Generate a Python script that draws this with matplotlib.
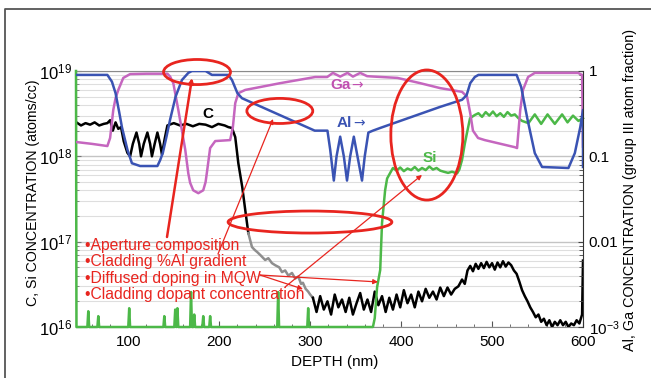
import numpy as np
import matplotlib
matplotlib.use("Agg")
from matplotlib import pyplot as plt
from matplotlib.patches import Ellipse
from matplotlib.lines import Line2D
from matplotlib.ticker import LogLocator, MultipleLocator, NullFormatter

plt.rcParams['font.family'] = ['Liberation Sans', 'DejaVu Sans']
plt.rcParams['mathtext.fontset'] = 'custom'
plt.rcParams['mathtext.rm'] = 'Liberation Sans'
plt.rcParams['mathtext.it'] = 'Liberation Sans:italic'

# ---- data ----
# Al atom fraction (right axis)
al_depth = [43, 77, 82, 86, 90, 93, 99, 104, 113, 132, 135, 138, 142, 146, 152, 159, 166, 170,
            185, 192, 210, 214, 220, 225, 305, 319, 322, 326, 329, 333, 337, 340.5, 344, 348,
            352, 357, 360, 364, 369, 377, 443, 467, 472, 476, 481, 485, 527, 532, 539, 547,
            555, 584, 591, 597, 600, 600]
al_frac = [0.90, 0.90, 0.75, 0.55, 0.33, 0.22, 0.12, 0.083, 0.077, 0.077, 0.09, 0.11, 0.17,
           0.27, 0.50, 0.785, 0.95, 1.0, 1.0, 0.90, 0.90, 0.785, 0.55, 0.48, 0.20, 0.20, 0.12,
           0.052, 0.10, 0.17, 0.10, 0.052, 0.10, 0.17, 0.10, 0.052, 0.10, 0.19, 0.20, 0.215,
           0.38, 0.46, 0.52, 0.72, 0.85, 0.90, 0.90, 0.65, 0.27, 0.109, 0.075, 0.073, 0.109,
           0.22, 0.35, 0.075]

# Ga atom fraction (right axis)
ga_depth = [43, 60, 77, 80, 83.5, 86, 89, 94.5, 102, 120, 143, 146, 149.5, 155, 159, 162.6,
            166, 168, 171.4, 177, 182.4, 185, 186.8, 190, 195.6, 212, 215, 217.6, 221, 228.6,
            267, 305.5, 318.7, 325, 333, 341, 347, 355, 362.6, 370, 396, 421, 443, 467, 472.5,
            476, 479, 484.6, 492, 525, 527.5, 531, 534, 539.6, 547, 594.5, 599, 600]
ga_frac = [0.147, 0.140, 0.132, 0.164, 0.35, 0.48, 0.60, 0.83, 0.92, 0.93, 0.93, 0.86, 0.72,
           0.35, 0.20, 0.12, 0.063, 0.049, 0.040, 0.037, 0.040, 0.050, 0.069, 0.125, 0.151,
           0.155, 0.22, 0.42, 0.55, 0.60, 0.72, 0.85, 0.85, 0.95, 0.86, 0.95, 0.86, 0.95, 0.87,
           0.86, 0.83, 0.72, 0.63, 0.57, 0.50, 0.32, 0.20, 0.164, 0.155, 0.128, 0.125, 0.35,
           0.60, 0.85, 0.95, 0.95, 0.90, 0.13]

# C concentration (atoms/cc), black parts
c_depth_a = [43, 48, 53, 58, 63, 68, 73, 77, 80, 83, 86, 89, 92, 95, 99, 102, 105, 109, 112,
             114, 117, 121, 124, 126, 129, 132, 135, 137, 140, 143, 150, 157, 164, 171, 178,
             185, 192, 199, 206, 210, 214, 217.6, 221, 225.3, 228.6, 232]
c_conc_a = [2.5e18, 2.3e18, 2.45e18, 2.35e18, 2.5e18, 2.3e18, 2.4e18, 2.45e18, 2.65e18, 2.0e18,
            2.5e18, 2.1e18, 2.2e18, 1.5e18, 1.1e18, 1.0e18, 1.4e18, 1.9e18, 1.4e18, 1.0e18,
            1.4e18, 1.9e18, 1.4e18, 1.0e18, 1.4e18, 1.9e18, 1.4e18, 1.05e18, 1.6e18, 2.3e18,
            2.45e18, 2.3e18, 2.4e18, 2.25e18, 2.4e18, 2.35e18, 2.2e18, 2.4e18, 2.3e18, 2.2e18,
            2.15e18, 1.68e18, 8.3e17, 4.37e17, 2.35e17, 1.26e17]
# C, diffused tail (grey)
c_depth_b = [232, 236, 239, 241.8, 245, 250.5, 254, 258, 261.5, 266, 269, 272.5, 276, 280,
             283.5, 287, 290, 292, 295, 297.8, 300, 303]
c_conc_b = [1.26e17, 8.65e16, 8.0e16, 7.55e16, 7.0e16, 6.1e16, 6.4e16, 5.6e16, 5.3e16, 5.0e16,
            4.4e16, 4.6e16, 4.0e16, 4.3e16, 3.7e16, 3.9e16, 3.2e16, 3.3e16, 2.8e16, 2.6e16,
            2.4e16, 2.2e16]
# C, black again
c_depth_c = [303, 307, 311, 315, 319, 323, 327, 331, 335, 339, 343, 347, 351, 355, 359, 363,
             367, 371, 375, 379, 383, 387, 391, 395, 399, 403, 407, 411, 415, 419, 423, 427,
             431, 435, 439, 443, 447, 451, 455, 459, 463, 467, 470, 473, 476, 479, 482, 485,
             488, 491, 494, 497, 500, 503, 506, 509, 512, 515, 518, 521, 524, 527, 530, 533,
             536, 539, 542, 545, 548, 551, 554, 557, 560, 563, 566, 569, 572, 575, 578, 581,
             584, 587, 590, 593, 596, 599, 600]
c_conc_c = [2.2e16, 1.5e16, 2.3e16, 1.6e16, 2.0e16, 1.4e16, 2.4e16, 1.7e16, 2.1e16, 1.5e16,
            2.2e16, 1.4e16, 1.9e16, 2.5e16, 1.6e16, 2.1e16, 1.5e16, 2.6e16, 1.8e16, 2.3e16,
            1.5e16, 2.2e16, 1.6e16, 2.4e16, 1.7e16, 2.7e16, 1.9e16, 2.4e16, 1.7e16, 2.6e16,
            2.0e16, 2.8e16, 2.2e16, 2.6e16, 2.1e16, 2.9e16, 2.3e16, 2.9e16, 2.4e16, 2.8e16,
            3.0e16, 3.6e16, 3.2e16, 4.6e16, 5.2e16, 4.5e16, 5.5e16, 4.8e16, 5.6e16, 4.9e16,
            5.8e16, 5.0e16, 5.6e16, 4.7e16, 5.7e16, 5.0e16, 5.9e16, 5.1e16, 5.7e16, 5.3e16,
            4.6e16, 4.2e16, 3.4e16, 2.7e16, 2.3e16, 2.0e16, 1.7e16, 1.5e16, 1.3e16, 1.4e16,
            1.15e16, 1.25e16, 1.05e16, 1.2e16, 1.0e16, 1.15e16, 1.05e16, 1.2e16, 1.05e16,
            1.15e16, 1.0e16, 1.1e16, 1.05e16, 1.2e16, 1.1e16, 1.4e16, 6.0e16]

# Si concentration (atoms/cc)
si_depth = [42.5, 43, 55, 56, 57, 66, 67, 68, 100, 101, 102, 138.6, 139.6, 140.6, 150.6, 151.6,
            153, 154, 155, 168, 169, 170, 171.5, 172.5, 173.5, 181.4, 182.4, 183.4, 189, 190,
            191, 263.8, 264.8, 265.8, 296.8, 297.8, 298.8, 369, 371, 373.6, 377, 379, 382.4,
            384.6, 388, 391, 395, 399, 403, 407, 411, 415, 419, 423, 427, 431, 435, 439, 443,
            447, 451.6, 456, 461.5, 464, 467, 470, 472.5, 475.8, 481, 485, 489, 493, 497, 501,
            505, 509, 513, 517, 521, 525, 529, 533, 540, 547, 554, 561, 569, 577, 583, 589,
            595, 600]
si_conc = [1e19, 1.0e16, 1.0e16, 1.53e16, 1.0e16, 1.0e16, 1.34e16, 1.0e16, 1.0e16, 1.66e16,
           1.0e16, 1.0e16, 1.34e16, 1.0e16, 1.0e16, 1.6e16, 1.0e16, 1.66e16, 1.0e16, 1.0e16,
           2.57e16, 1.0e16, 1.0e16, 1.4e16, 1.0e16, 1.0e16, 1.34e16, 1.0e16, 1.0e16, 1.34e16,
           1.0e16, 1.0e16, 2.57e16, 1.0e16, 1.0e16, 1.66e16, 1.0e16, 1.0e16, 1.27e16, 2.94e16,
           4.65e16, 1.65e17, 4.0e17, 5.5e17, 6.4e17, 7.3e17, 6.8e17, 7.4e17, 6.7e17, 7.2e17,
           6.9e17, 7.5e17, 6.8e17, 7.3e17, 6.9e17, 7.6e17, 7.0e17, 7.3e17, 6.8e17, 6.6e17,
           6.4e17, 6.6e17, 6.3e17, 7.0e17, 9.1e17, 1.4e18, 1.9e18, 2.8e18, 3.05e18, 3.2e18,
           2.9e18, 3.3e18, 3.0e18, 3.35e18, 2.95e18, 3.2e18, 2.9e18, 3.3e18, 3.0e18, 3.1e18,
           2.8e18, 2.6e18, 2.45e18, 3.1e18, 2.4e18, 3.1e18, 2.4e18, 3.1e18, 2.5e18, 3.0e18,
           2.6e18, 2.8e18]

left_ticks = [1e16, 1e17, 1e18, 1e19]
left_labels = [r'$10^{16}$', r'$10^{17}$', r'$10^{18}$', r'$10^{19}$']
right_ticks = [1e-3, 1e-2, 1e-1, 1]
right_labels = [r'$10^{-3}$', '0.01', '0.1', '1']
x_ticks = [100, 200, 300, 400, 500, 600]

notes = ['•Aperture composition', '•Cladding %Al gradient',
         '•Diffused doping in MQW', '•Cladding dopant concentration']

BLUE = '#3a53b3'
MAGENTA = '#c566bf'
GREEN = '#4cb848'
GREY = '#8e8e8e'
RED = '#e8251f'

W, H = 651, 378
fig = plt.figure(figsize=(W / 100, H / 100), dpi=100)
L, R, T, B = 76, 583, 71, 327
ax = fig.add_axes([L / W, 1 - B / H, (R - L) / W, (B - T) / H])
ax2 = ax.twinx()

# outer frame of the figure
fig.add_artist(Line2D([5 / W, 5 / W, 1.0], [0.0, 1 - 9 / H, 1 - 9 / H],
                      transform=fig.transFigure, color='#555555', lw=1.3))

ax.set_yscale('log')
ax2.set_yscale('log')
ax.set_xlim(42.5, 600)
ax.set_ylim(1e16, 1e19)
ax2.set_ylim(1e-3, 1)

ax.yaxis.set_minor_locator(LogLocator(base=10, subs=np.arange(2, 10)))
ax.yaxis.set_minor_formatter(NullFormatter())
ax2.yaxis.set_minor_locator(LogLocator(base=10, subs=np.arange(2, 10)))
ax2.yaxis.set_minor_formatter(NullFormatter())
ax.grid(which='minor', axis='y', color='#dedede', lw=0.8)
ax.grid(which='major', axis='y', color='#c4c4c4', lw=1.0)

ax.set_xticks(x_ticks)
ax.set_xticklabels([str(t) for t in x_ticks])
ax.xaxis.set_minor_locator(MultipleLocator(20))
ax.set_yticks(left_ticks)
ax.set_yticklabels(left_labels)
ax2.set_yticks(right_ticks)
ax2.set_yticklabels(right_labels)

ax.tick_params(axis='x', which='both', direction='in', labelsize=11, pad=6, color='#555555')
ax.tick_params(axis='x', which='major', length=4)
ax.tick_params(axis='x', which='minor', length=2.5)
ax.tick_params(axis='y', which='both', direction='in', labelsize=12, pad=3, color='#777777')
ax.tick_params(axis='y', which='minor', length=2)
ax2.tick_params(axis='y', which='both', direction='in', labelsize=11, pad=4, color='#444444')
ax2.tick_params(axis='y', which='minor', length=3)

for sp in ['top', 'bottom', 'left']:
    ax.spines[sp].set_color('#8a8a8a')
    ax2.spines[sp].set_visible(False)
ax.spines['right'].set_visible(False)
ax2.spines['right'].set_color('#333333')

# curves
ax.plot(c_depth_a, c_conc_a, color='black', lw=1.8, zorder=3)
ax.plot(c_depth_b, c_conc_b, color=GREY, lw=1.8, zorder=3)
ax.plot(c_depth_c, c_conc_c, color='black', lw=1.8, zorder=3)
ax.plot(si_depth, si_conc, color=GREEN, lw=1.8, zorder=4, clip_on=False)
ax2.plot(ga_depth, ga_frac, color=MAGENTA, lw=1.8)
ax2.plot(al_depth, al_frac, color=BLUE, lw=1.8)

# curve names
ax.text(188, 3.1e18, 'C', color='black', fontsize=11, fontweight='bold', ha='center', va='center')
ax2.text(333, 0.685, 'Ga', color='#c050b0', fontsize=11, fontweight='bold', ha='center', va='center')
ax2.text(352, 0.685, '→', color='#c050b0', fontsize=10, family=['DejaVu Sans'],
         ha='center', va='center')
ax2.text(338, 0.246, 'Al', color=BLUE, fontsize=11, fontweight='bold', ha='center', va='center')
ax2.text(354, 0.246, '→', color=BLUE, fontsize=10, family=['DejaVu Sans'],
         ha='center', va='center')
ax.text(432, 9.5e17, 'Si', color=GREEN, fontsize=11, fontweight='bold', ha='center', va='center')

# axis titles
fig.text(33 / W, 1 - 193 / H, 'C, Si CONCENTRATION (atoms/cc)', rotation=90,
         ha='center', va='center', fontsize=10.2)
fig.text(630 / W, 1 - 190 / H, 'Al, Ga CONCENTRATION (group III atom fraction)', rotation=90,
         ha='center', va='center', fontsize=10.4)
fig.text(335 / W, 1 - 362 / H, 'DEPTH (nm)', ha='center', va='center', fontsize=11)

# red annotations (axes fraction coordinates)
for (cx, cy, w, h) in [(0.2387, 0.996, 0.132, 0.098), (0.402, 0.844, 0.130, 0.098),
                       (0.692, 0.75, 0.142, 0.508), (0.4615, 0.410, 0.323, 0.086)]:
    ax2.add_patch(Ellipse((cx, cy), w, h, transform=ax2.transAxes, fill=False,
                          ec=RED, lw=2.0, clip_on=False, zorder=6))

for i, s in enumerate(notes):
    ax2.text(0.0178, 0.320 - i * 0.065, s, transform=ax2.transAxes, color=RED,
             fontsize=11.3, ha='left', va='center', zorder=7)

arrows = [((0.1795, 0.3516), (0.2288, 0.9727), 1.8),
          ((0.280, 0.285), (0.3886, 0.8125), 0.9),
          ((0.363, 0.203), (0.5957, 0.176), 0.9),
          ((0.363, 0.203), (0.4477, 0.148), 0.9),
          ((0.4122, 0.156), (0.6824, 0.594), 0.9)]
for start, end, lw in arrows:
    ax2.annotate('', xy=end, xytext=start, xycoords='axes fraction', textcoords='axes fraction',
                 arrowprops=dict(arrowstyle='-|>', color=RED, lw=lw, mutation_scale=7,
                                 shrinkA=0, shrinkB=0), zorder=7)

fig.savefig('out.png', dpi=100)
